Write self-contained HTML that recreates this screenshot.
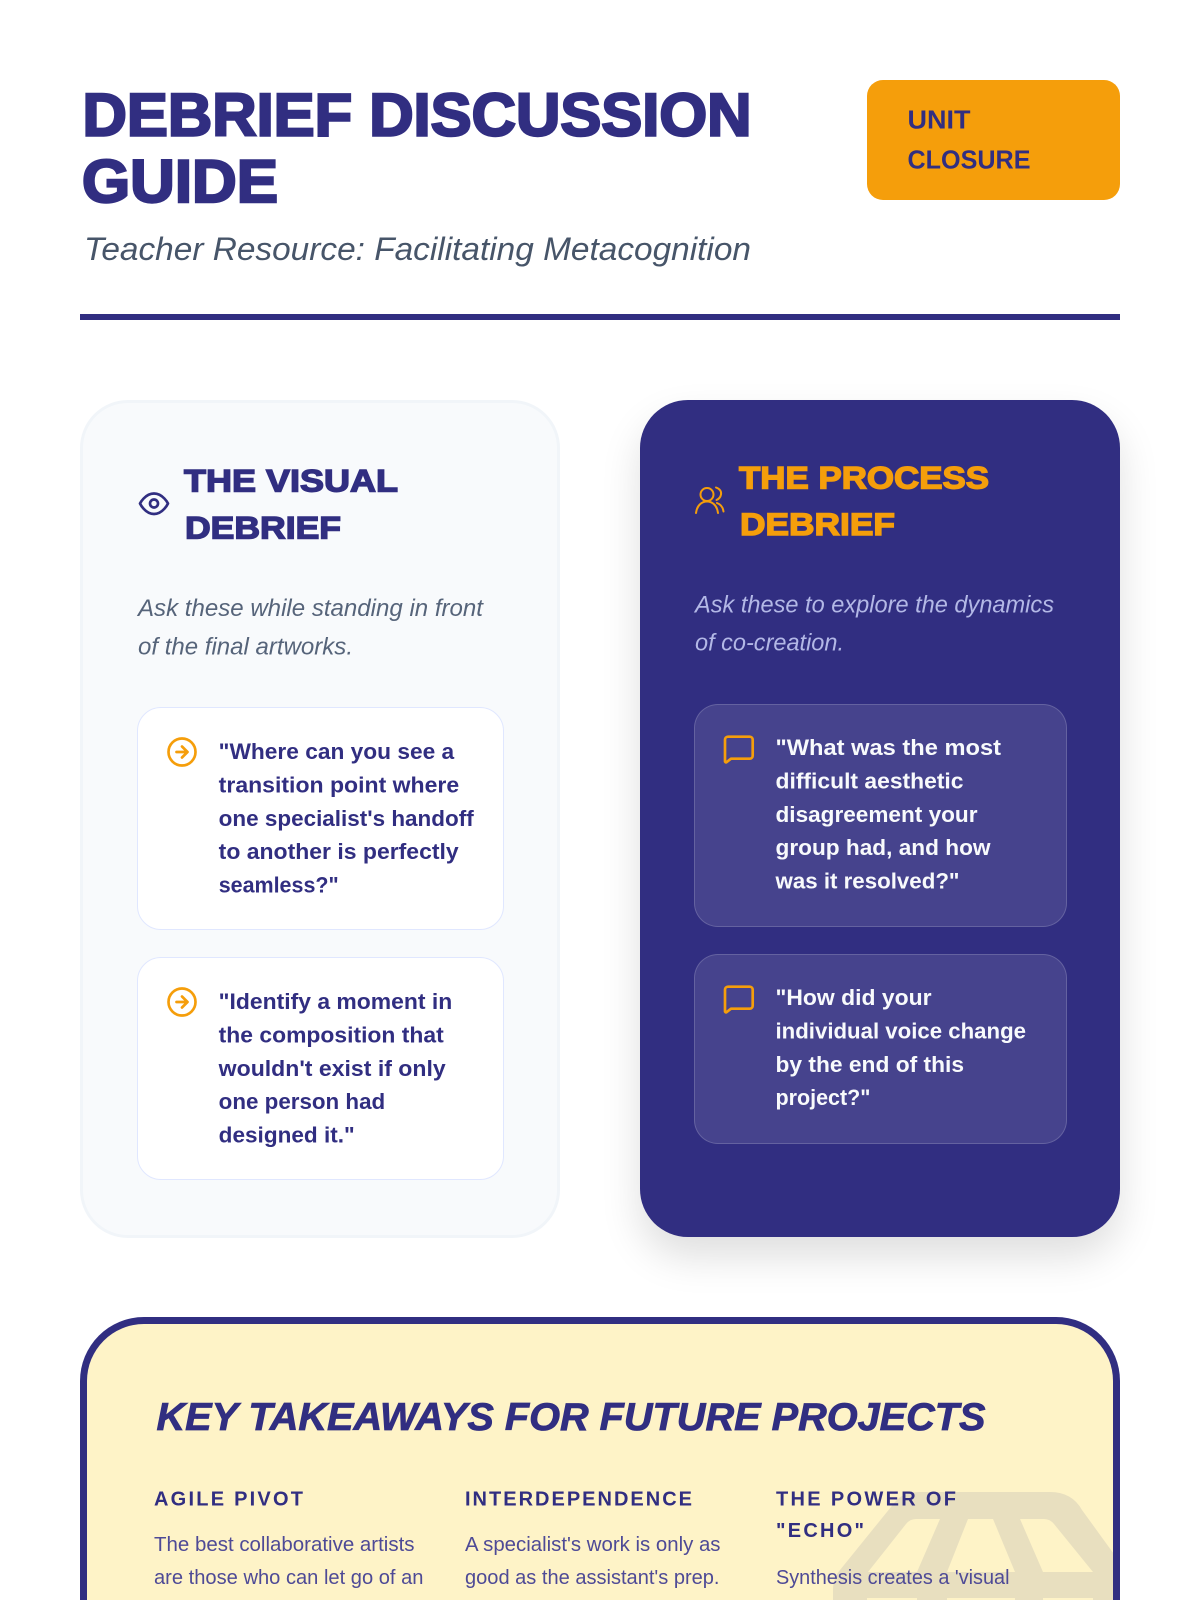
<!DOCTYPE html>
<html lang="en">
<head>
<meta charset="utf-8">
<title>Debrief Discussion Guide</title>
<style>
html,body{margin:0;padding:0;background:#fff;width:1200px;height:1600px;overflow:hidden;}
#page{position:relative;width:1200px;height:1600px;overflow:hidden;font-family:"Liberation Sans",sans-serif;filter:blur(.3px);}
.b{position:absolute;box-sizing:border-box;}
svg{position:absolute;left:0;top:0;}
text{font-family:"Liberation Sans",sans-serif;}
.h1{font-size:60px;font-weight:700;fill:#312e81;stroke:#312e81;stroke-width:2.4px;}
.sub{font-size:32px;font-style:italic;fill:#475569;}
.badge{font-size:25.5px;font-weight:700;fill:#312e81;}
.h2a{font-size:31.5px;font-weight:700;fill:#312e81;stroke:#312e81;stroke-width:1.4px;}
.h2b{font-size:31.5px;font-weight:700;fill:#f59e0b;stroke:#f59e0b;stroke-width:1.4px;}
.da{font-size:24px;font-style:italic;fill:#56647a;}
.db{font-size:24px;font-style:italic;fill:#b3b8e6;}
.qa{font-size:22px;font-weight:700;fill:#312e81;}
.qb{font-size:22px;font-weight:700;fill:#f8fafc;}
.kt{font-size:39px;font-weight:700;font-style:italic;fill:#312e81;stroke:#312e81;stroke-width:.8px;}
.kh{font-size:20px;font-weight:700;fill:#312e81;}
.kb{font-size:20.5px;fill:#4e4a96;}
</style>
</head>
<body>
<div id="page">
<div class="b" style="left:867px;top:80px;width:253px;height:120px;background:#f59e0b;border-radius:16px;"></div>
<div class="b" style="left:80px;top:314px;width:1040px;height:6px;background:#312e81;"></div>

<div class="b" style="left:80px;top:400px;width:480px;height:838px;background:#f8fafc;border:3px solid #f1f5f9;border-radius:48px;"></div>
<div class="b" style="left:640px;top:400px;width:480px;height:837px;background:#312e81;border-radius:48px;box-shadow:0 20px 40px rgba(0,0,0,.13);"></div>

<div class="b" style="left:137px;top:707px;width:367px;height:223px;background:#fff;border:1.5px solid #e0e7ff;border-radius:24px;"></div>
<div class="b" style="left:137px;top:957px;width:367px;height:223px;background:#fff;border:1.5px solid #e0e7ff;border-radius:24px;"></div>
<div class="b" style="left:694px;top:704px;width:373px;height:223px;background:rgba(255,255,255,.1);border:1.5px solid rgba(255,255,255,.17);border-radius:24px;"></div>
<div class="b" style="left:694px;top:954px;width:373px;height:190px;background:rgba(255,255,255,.1);border:1.5px solid rgba(255,255,255,.17);border-radius:24px;"></div>

<div class="b" style="left:80px;top:1317px;width:1040px;height:283px;background:#fef3c7;border:7px solid #312e81;border-bottom:0;border-radius:64px 64px 0 0;"></div>

<svg width="1200" height="1600" viewBox="0 0 1200 1600" xmlns="http://www.w3.org/2000/svg">
<defs><clipPath id="kc"><rect x="87" y="1324" width="1026" height="276"/></clipPath></defs>

<!-- watermark -->
<g clip-path="url(#kc)">
<path fill="#e8dfbf" d="M833 1600L833 1590Q833 1578 840 1570L895 1502Q903 1492 920 1492L1050 1492Q1072 1492 1082 1510L1140 1590L1140 1600Z"/>
<path fill="#fef3c7" d="M868 1572L906 1524Q910 1519 916 1519L940 1519L917 1572Z"/>
<path fill="#fef3c7" d="M968 1519L993 1519L1015 1572L947 1572Z"/>
<path fill="#fef3c7" d="M1020 1519L1044 1519Q1050 1519 1054 1524L1093 1572L1043 1572Z"/>
<rect x="867" y="1598" width="50" height="2" fill="#fef3c7"/>
<rect x="947" y="1598" width="68" height="2" fill="#fef3c7"/>
<rect x="1043" y="1598" width="50" height="2" fill="#fef3c7"/>
</g>

<!-- header -->
<text class="h1" x="82.500" y="135.500" textLength="669" lengthAdjust="spacingAndGlyphs">DEBRIEF DISCUSSION</text>
<text class="h1" x="82" y="202" textLength="196" lengthAdjust="spacingAndGlyphs">GUIDE</text>
<text class="sub" x="84" y="260" textLength="667" lengthAdjust="spacingAndGlyphs">Teacher Resource: Facilitating Metacognition</text>
<text class="badge" x="907.500" y="128.500" textLength="63" lengthAdjust="spacingAndGlyphs">UNIT</text>
<text class="badge" x="907.500" y="168.500" textLength="123" lengthAdjust="spacingAndGlyphs">CLOSURE</text>

<!-- left card heading -->
<g fill="none" stroke="#312e81" stroke-width="2.67" stroke-linecap="round" stroke-linejoin="round">
<path d="M140 503.500C140 503.500 145 493.500 154 493.500C163 493.500 168 503.500 168 503.500C168 503.500 163 514 154 514C145 514 140 503.500 140 503.500Z"/>
<circle cx="154" cy="503.500" r="4"/>
</g>
<text class="h2a" x="184" y="491.500" textLength="214" lengthAdjust="spacingAndGlyphs">THE VISUAL</text>
<text class="h2a" x="185" y="538.500" textLength="156" lengthAdjust="spacingAndGlyphs">DEBRIEF</text>
<text class="da" x="138" y="616" textLength="345" lengthAdjust="spacingAndGlyphs">Ask these while standing in front</text>
<text class="da" x="138" y="654.500" textLength="215" lengthAdjust="spacingAndGlyphs">of the final artworks.</text>

<!-- left q1 -->
<g fill="none" stroke="#f59e0b" stroke-width="2.67" stroke-linecap="round" stroke-linejoin="round">
<circle cx="182" cy="752" r="13.500"/><path d="M182 746.500L187.500 752L182 757.500M176.500 752H187.500"/>
<circle cx="182" cy="1002" r="13.500"/><path d="M182 996.500L187.500 1002L182 1007.500M176.500 1002H187.500"/>
</g>
<text class="qa" x="218.700" y="759" textLength="235.500" lengthAdjust="spacingAndGlyphs">"Where can you see a</text>
<text class="qa" x="218.700" y="792.500" textLength="240.500" lengthAdjust="spacingAndGlyphs">transition point where</text>
<text class="qa" x="218.700" y="826" textLength="255" lengthAdjust="spacingAndGlyphs">one specialist's handoff</text>
<text class="qa" x="218.700" y="859" textLength="240" lengthAdjust="spacingAndGlyphs">to another is perfectly</text>
<text class="qa" x="218.700" y="892.500" textLength="120" lengthAdjust="spacingAndGlyphs">seamless?"</text>

<!-- left q2 -->
<text class="qa" x="218.700" y="1009" textLength="233.500" lengthAdjust="spacingAndGlyphs">"Identify a moment in</text>
<text class="qa" x="218.700" y="1042.500" textLength="225" lengthAdjust="spacingAndGlyphs">the composition that</text>
<text class="qa" x="218.700" y="1076" textLength="227" lengthAdjust="spacingAndGlyphs">wouldn't exist if only</text>
<text class="qa" x="218.700" y="1109" textLength="166.500" lengthAdjust="spacingAndGlyphs">one person had</text>
<text class="qa" x="218.700" y="1142.500" textLength="136" lengthAdjust="spacingAndGlyphs">designed it."</text>

<!-- right card heading -->
<g fill="none" stroke="#f59e0b" stroke-width="2" stroke-linecap="round" stroke-linejoin="round">
<circle cx="707" cy="494.500" r="6.500"/>
<path d="M696 513C697 505 702 501.500 707 501.500C712 501.500 717 505 718 513"/>
<path d="M716 487.500C720 489 721.500 491.500 721 494.500C720.500 497 719 499 716.500 500"/>
<path d="M717 503C721 504.500 723 507.500 723.500 511.500"/>
</g>
<text class="h2b" x="739" y="488.500" textLength="250" lengthAdjust="spacingAndGlyphs">THE PROCESS</text>
<text class="h2b" x="740" y="535" textLength="155" lengthAdjust="spacingAndGlyphs">DEBRIEF</text>
<text class="db" x="695" y="612.500" textLength="359" lengthAdjust="spacingAndGlyphs">Ask these to explore the dynamics</text>
<text class="db" x="695" y="650.500" textLength="149" lengthAdjust="spacingAndGlyphs">of co-creation.</text>

<!-- message icons -->
<g fill="none" stroke="#f59e0b" stroke-width="2.67" stroke-linejoin="round">
<path d="M725 739.700a3 3 0 0 1 3-3h21.700a3 3 0 0 1 3 3v16a3 3 0 0 1-3 3H731l-4.500 3.500a1 1 0 0 1-1.500-.8z"/>
<path d="M725 989.700a3 3 0 0 1 3-3h21.700a3 3 0 0 1 3 3v16a3 3 0 0 1-3 3H731l-4.500 3.500a1 1 0 0 1-1.500-.8z"/>
</g>

<!-- right q1 -->
<text class="qb" x="775.500" y="755" textLength="225.500" lengthAdjust="spacingAndGlyphs">"What was the most</text>
<text class="qb" x="775.500" y="788.500" textLength="188" lengthAdjust="spacingAndGlyphs">difficult aesthetic</text>
<text class="qb" x="775.500" y="822" textLength="202" lengthAdjust="spacingAndGlyphs">disagreement your</text>
<text class="qb" x="775.500" y="855" textLength="215" lengthAdjust="spacingAndGlyphs">group had, and how</text>
<text class="qb" x="775.500" y="888.500" textLength="184" lengthAdjust="spacingAndGlyphs">was it resolved?"</text>

<!-- right q2 -->
<text class="qb" x="775.500" y="1005" textLength="156" lengthAdjust="spacingAndGlyphs">"How did your</text>
<text class="qb" x="775.500" y="1038.500" textLength="250.500" lengthAdjust="spacingAndGlyphs">individual voice change</text>
<text class="qb" x="775.500" y="1072" textLength="188.500" lengthAdjust="spacingAndGlyphs">by the end of this</text>
<text class="qb" x="775.500" y="1105" textLength="95" lengthAdjust="spacingAndGlyphs">project?"</text>

<!-- takeaways -->
<text class="kt" x="156.500" y="1430" textLength="829" lengthAdjust="spacingAndGlyphs">KEY TAKEAWAYS FOR FUTURE PROJECTS</text>
<text class="kh" x="154" y="1505.500" textLength="149" lengthAdjust="spacing">AGILE PIVOT</text>
<text class="kh" x="465" y="1505.500" textLength="227" lengthAdjust="spacing">INTERDEPENDENCE</text>
<text class="kh" x="776" y="1505.500" textLength="180" lengthAdjust="spacing">THE POWER OF</text>
<text class="kh" x="776" y="1537" textLength="88" lengthAdjust="spacing">"ECHO"</text>
<text class="kb" x="154" y="1551" textLength="260.500" lengthAdjust="spacingAndGlyphs">The best collaborative artists</text>
<text class="kb" x="154" y="1584" textLength="269.500" lengthAdjust="spacingAndGlyphs">are those who can let go of an</text>
<text class="kb" x="465" y="1551" textLength="255.500" lengthAdjust="spacingAndGlyphs">A specialist's work is only as</text>
<text class="kb" x="465" y="1584" textLength="254.500" lengthAdjust="spacingAndGlyphs">good as the assistant's prep.</text>
<text class="kb" x="776" y="1584" textLength="233.500" lengthAdjust="spacingAndGlyphs">Synthesis creates a 'visual</text>
</svg>
</div>
</body>
</html>
